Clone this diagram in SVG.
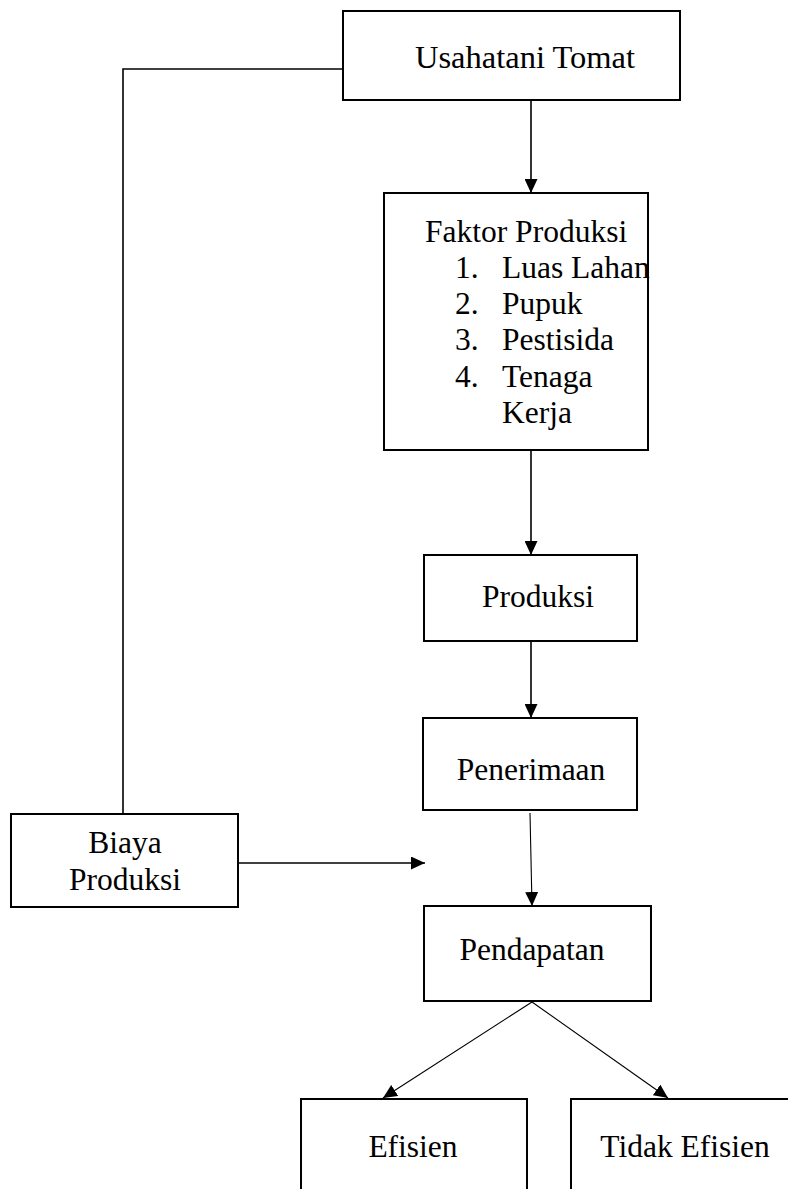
<svg xmlns="http://www.w3.org/2000/svg" width="788" height="1189" viewBox="0 0 788 1189">
<style>
.box{fill:#fff;stroke:#000;stroke-width:2}
.t{font-family:"Liberation Serif","Times New Roman",serif;font-size:31.5px;fill:#000}
.c{stroke:#000;stroke-width:1.6;fill:none}
.c2{stroke:#000;stroke-width:1.1;fill:none}
</style>
<defs>
<marker id="ah" viewBox="0 0 14 13" refX="14" refY="6.5" markerWidth="14" markerHeight="13" markerUnits="userSpaceOnUse" orient="auto">
<path d="M0,0 L14,6.5 L0,13 Z" fill="#000"/>
</marker>
</defs>
<rect width="788" height="1189" fill="#fff"/>
<g id="connectors">
<polyline class="c" points="343,69 123,69 123,814"/>
<line class="c" x1="531" y1="100" x2="531" y2="193" marker-end="url(#ah)"/>
<line class="c" x1="531" y1="450" x2="531" y2="555" marker-end="url(#ah)"/>
<line class="c" x1="531" y1="641" x2="531" y2="718" marker-end="url(#ah)"/>
<line class="c2" x1="530" y1="813" x2="532" y2="906" marker-end="url(#ah)"/>
<line class="c" x1="238" y1="863" x2="425" y2="863" marker-end="url(#ah)"/>
<line class="c2" x1="532" y1="1002" x2="383" y2="1098" marker-end="url(#ah)"/>
<line class="c2" x1="532" y1="1002" x2="668" y2="1098" marker-end="url(#ah)"/>
</g>
<g id="usahatani">
<rect class="box" x="343" y="11" width="337" height="89"/>
<text class="t" x="525" y="68" text-anchor="middle" style="font-size:32.5px">Usahatani Tomat</text>
</g>
<g id="faktor">
<rect class="box" x="384" y="193" width="264" height="257"/>
<text class="t" x="425" y="242">Faktor Produksi</text>
<text class="t" x="455" y="278">1.</text><text class="t" x="502" y="278">Luas Lahan</text>
<text class="t" x="455" y="314">2.</text><text class="t" x="502" y="314">Pupuk</text>
<text class="t" x="455" y="350">3.</text><text class="t" x="502" y="350">Pestisida</text>
<text class="t" x="455" y="387">4.</text><text class="t" x="502" y="387">Tenaga</text>
<text class="t" x="502" y="423">Kerja</text>
</g>
<g id="produksi">
<rect class="box" x="424" y="555" width="213" height="86"/>
<text class="t" x="538" y="607" text-anchor="middle">Produksi</text>
</g>
<g id="penerimaan">
<rect class="box" x="423" y="718" width="214" height="92"/>
<text class="t" x="531" y="780" text-anchor="middle">Penerimaan</text>
</g>
<g id="biaya">
<rect class="box" x="11" y="814" width="227" height="93"/>
<text class="t" x="125" y="853" text-anchor="middle">Biaya</text>
<text class="t" x="125" y="890" text-anchor="middle">Produksi</text>
</g>
<g id="pendapatan">
<rect class="box" x="424" y="906" width="227" height="95"/>
<text class="t" x="532" y="960" text-anchor="middle">Pendapatan</text>
</g>
<g id="efisien">
<rect class="box" x="301" y="1099" width="226" height="110"/>
<text class="t" x="413" y="1157" text-anchor="middle">Efisien</text>
</g>
<g id="tidak">
<rect class="box" x="571" y="1099" width="240" height="110"/>
<text class="t" x="685" y="1157" text-anchor="middle">Tidak Efisien</text>
</g>
</svg>
